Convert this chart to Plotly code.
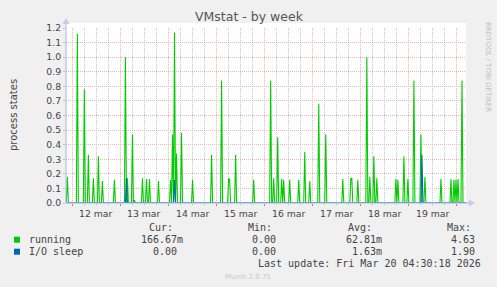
import plotly.graph_objects as go
import pandas as pd

# ---------------- data ----------------
running_times = [
    "2026-03-11 21:30", "2026-03-12 02:30", "2026-03-12 06:00", "2026-03-12 08:00",
    "2026-03-12 10:30", "2026-03-12 13:00", "2026-03-12 15:00", "2026-03-12 21:00",
    "2026-03-13 02:30", "2026-03-13 03:30", "2026-03-13 06:00", "2026-03-13 07:00",
    "2026-03-13 11:00", "2026-03-13 13:00", "2026-03-13 14:30", "2026-03-13 19:00",
    "2026-03-14 01:00", "2026-03-14 02:00", "2026-03-14 03:00", "2026-03-14 04:00",
    "2026-03-14 06:30", "2026-03-14 12:00", "2026-03-14 21:30",
    "2026-03-15 02:30", "2026-03-15 06:00", "2026-03-15 06:30", "2026-03-15 09:30",
    "2026-03-15 18:30",
    "2026-03-16 03:00", "2026-03-16 04:30", "2026-03-16 06:30", "2026-03-16 08:30",
    "2026-03-16 09:30", "2026-03-16 12:30", "2026-03-16 17:00", "2026-03-16 20:00",
    "2026-03-16 22:30",
    "2026-03-17 03:00", "2026-03-17 06:30", "2026-03-17 15:00", "2026-03-17 19:00",
    "2026-03-17 19:30", "2026-03-17 22:30",
    "2026-03-18 03:00", "2026-03-18 04:30", "2026-03-18 06:30", "2026-03-18 08:00",
    "2026-03-18 17:30", "2026-03-18 18:30", "2026-03-18 21:30", "2026-03-18 23:30",
    "2026-03-19 02:30", "2026-03-19 06:00", "2026-03-19 08:00", "2026-03-19 16:00",
    "2026-03-19 21:00", "2026-03-19 22:30", "2026-03-19 23:30", "2026-03-20 00:30",
    "2026-03-20 02:30",
]
running_values = [
    0.18, 1.16, 0.78, 0.33,
    0.17, 0.32, 0.15, 0.16,
    1.00, 0.17, 0.47, 0.02,
    0.17, 0.165, 0.165, 0.15,
    0.16, 0.47, 1.17, 0.34,
    0.48, 0.16, 0.33,
    0.84, 0.17, 0.16, 0.33,
    0.16,
    0.84, 0.17, 0.45, 0.165,
    0.16, 0.16, 0.16, 0.35,
    0.15,
    0.68, 0.47, 0.165, 0.17,
    0.17, 0.16,
    1.00, 0.18, 0.32, 0.17,
    0.165, 0.16, 0.32, 0.165,
    0.84, 0.47, 0.18, 0.165,
    0.165, 0.16, 0.16, 0.165,
    0.84,
]
io_times = ["2026-03-13 03:00", "2026-03-14 03:00", "2026-03-19 06:30"]
io_values = [0.17, 0.16, 0.33]

x_tick_days = ["2026-03-12", "2026-03-13", "2026-03-14", "2026-03-15",
               "2026-03-16", "2026-03-17", "2026-03-18", "2026-03-19"]
x_tick_labels = ["12 mar", "13 mar", "14 mar", "15 mar",
                 "16 mar", "17 mar", "18 mar", "19 mar"]

series_names = ["running", "I/O sleep"]
series_colors = ["#00CC00", "#0066B3"]
cur_vals = ["166.67m", "0.00"]
min_vals = ["0.00", "0.00"]
avg_vals = ["62.81m", "1.63m"]
max_vals = ["4.63", "1.90"]
last_update = "Last update: Fri Mar 20 04:30:18 2026"

range_start = "2026-03-11 20:50"
range_end = "2026-03-20 04:30"

# ---------------- build series on 30-min sample grid ----------------
grid = pd.date_range("2026-03-11 20:30", "2026-03-20 04:30", freq="30min")


def build(times, values):
    s = pd.Series(0.0, index=grid)
    for t, v in zip(times, values):
        s[pd.Timestamp(t)] = v
    return s


run_s = build(running_times, running_values)
io_s = build(io_times, io_values)

# ---------------- layout geometry (pixels) ----------------
W, H = 497, 287
L, R, T, B = 66, 466, 28, 203


def fx(px):
    return (px - L) / (R - L)


def fy(py):
    return (B - py) / (B - T)


MONO = "DejaVu Sans Mono"
SANS = "DejaVu Sans"
TXT = "#444444"

fig = go.Figure()
fig.add_trace(go.Scatter(x=run_s.index, y=run_s.values, mode="lines",
                         line=dict(color=series_colors[0], width=1.1),
                         name=series_names[0], hoverinfo="skip"))
fig.add_trace(go.Scatter(x=io_s.index, y=io_s.values, mode="lines",
                         line=dict(color=series_colors[1], width=1.1),
                         name=series_names[1], hoverinfo="skip"))

ann = []
# title
ann.append(dict(text="VMstat - by week", x=fx(249), y=fy(17), xref="paper", yref="paper",
                showarrow=False, font=dict(family=SANS, size=12.5, color="#555555"),
                xanchor="center", yanchor="middle"))
# y title
ann.append(dict(text="process states", x=fx(13), y=fy(115), xref="paper", yref="paper",
                showarrow=False, textangle=-90, font=dict(family=SANS, size=10, color=TXT),
                xanchor="center", yanchor="middle"))
# right vertical text
ann.append(dict(text="RRDTOOL / TOBI OETIKER", x=fx(488), y=fy(67), xref="paper", yref="paper",
                showarrow=False, textangle=90, font=dict(family=SANS, size=7, color="#bdbdbd"),
                xanchor="center", yanchor="middle"))
# x tick labels at noon
for d, lab in zip(x_tick_days, x_tick_labels):
    ann.append(dict(text=lab, x=pd.Timestamp(d) + pd.Timedelta(hours=12), y=fy(213.5),
                    xref="x", yref="paper", showarrow=False,
                    font=dict(family=SANS, size=9.3, color=TXT),
                    xanchor="center", yanchor="middle"))
# legend headers
for txt, cx in zip(["Cur:", "Min:", "Avg:", "Max:"], [161, 260, 359.5, 458.5]):
    ann.append(dict(text=txt, x=fx(cx), y=fy(227.7), xref="paper", yref="paper",
                    showarrow=False, font=dict(family=MONO, size=10, color=TXT),
                    xanchor="center", yanchor="middle"))
col_right = [185.3, 284.3, 383.7, 482.7]
row_y = [239.7, 251.7]
shapes = []
for i in range(2):
    yy = row_y[i]
    shapes.append(dict(type="rect", xref="paper", yref="paper",
                       x0=fx(14), x1=fx(20), y0=fy(yy - 3), y1=fy(yy + 3),
                       fillcolor=series_colors[i], line=dict(width=0)))
    ann.append(dict(text=series_names[i], x=fx(26.7), y=fy(yy), xref="paper", yref="paper",
                    showarrow=False, font=dict(family=MONO, size=10, color=TXT),
                    xanchor="left", yanchor="middle"))
    for vals, cr in zip([cur_vals, min_vals, avg_vals, max_vals], col_right):
        v = vals[i]
        rx = cr if v[-1].isalpha() else cr - 6.0
        ann.append(dict(text=v, x=fx(rx), y=fy(yy), xref="paper", yref="paper",
                        showarrow=False, font=dict(family=MONO, size=10, color=TXT),
                        xanchor="right", yanchor="middle"))
ann.append(dict(text=last_update, x=fx(482.7), y=fy(263.5), xref="paper", yref="paper",
                showarrow=False, font=dict(family=MONO, size=10, color=TXT),
                xanchor="right", yanchor="middle"))
ann.append(dict(text="Munin 2.0.75", x=fx(248), y=fy(276.5), xref="paper", yref="paper",
                showarrow=False, font=dict(family=SANS, size=7, color="#c8c8c8"),
                xanchor="center", yanchor="middle"))

# white canvas extension above top grid line (behind)
shapes.append(dict(type="rect", xref="paper", yref="paper", layer="below",
                   x0=fx(66), x1=fx(466), y0=fy(28), y1=fy(23),
                   fillcolor="white", line=dict(width=0)))
# axis arrows
AX = "#a8b4e4"
shapes.append(dict(type="line", xref="paper", yref="paper",
                   x0=fx(66), x1=fx(66), y0=fy(203), y1=fy(23), line=dict(color=AX, width=1)))
shapes.append(dict(type="path", xref="paper", yref="paper",
                   path=f"M {fx(62.5)} {fy(24)} L {fx(69.5)} {fy(24)} L {fx(66)} {fy(18)} Z",
                   fillcolor="#c4ccf2", line=dict(width=0)))
shapes.append(dict(type="line", xref="paper", yref="paper",
                   x0=fx(66), x1=fx(470), y0=fy(203), y1=fy(203), line=dict(color=AX, width=1)))
shapes.append(dict(type="path", xref="paper", yref="paper",
                   path=f"M {fx(469)} {fy(199.5)} L {fx(469)} {fy(206.5)} L {fx(475)} {fy(203)} Z",
                   fillcolor="#c4ccf2", line=dict(width=0)))

fig.update_layout(
    width=W, height=H,
    margin=dict(l=L, r=W - R, t=T, b=H - B, pad=0),
    paper_bgcolor="#f0f0f0", plot_bgcolor="white",
    showlegend=False,
    annotations=ann, shapes=shapes,
    xaxis=dict(type="date", range=[range_start, range_end], showticklabels=False,
               tick0="2026-03-12", dtick=86400000,
               showgrid=True, gridcolor="#ecb4b4", griddash="1px,1px", gridwidth=1,
               ticks="outside", ticklen=2, tickcolor="#e07070",
               minor=dict(dtick=6 * 3600000, showgrid=True, gridcolor="#c6c6c6",
                          griddash="1px,1px", ticks="outside", ticklen=1, tickcolor="#bbbbbb"),
               zeroline=False, showline=False, fixedrange=True),
    yaxis=dict(range=[0, 1.2], dtick=0.1, tick0=0, tickformat=".1f",
               showgrid=True, gridcolor="#ecb4b4", griddash="1px,1px", gridwidth=1,
               ticks="outside", ticklen=2, tickcolor="#c0c0c0",
               tickfont=dict(family=SANS, size=9.3, color=TXT),
               zeroline=False, showline=False, fixedrange=True),
)

fig.write_html("out.html")
